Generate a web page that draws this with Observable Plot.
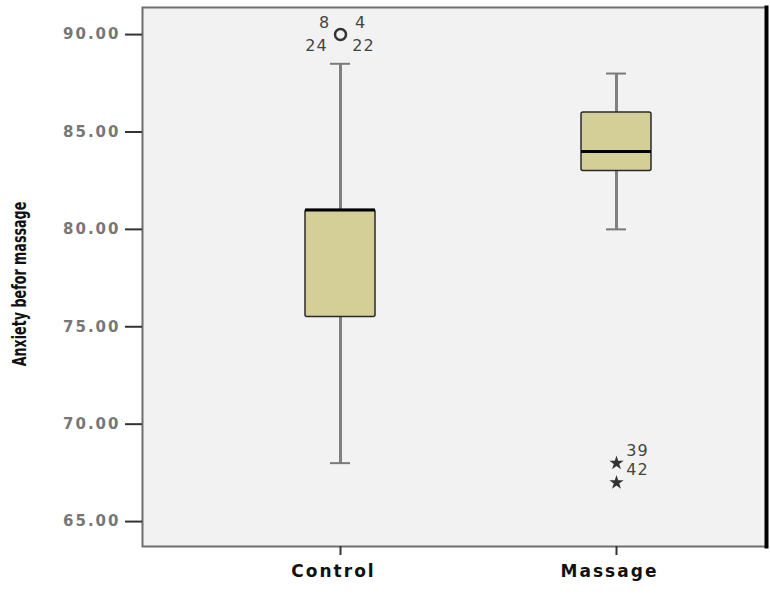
<!DOCTYPE html>
<html>
<head>
<meta charset="utf-8">
<script src="https://cdn.jsdelivr.net/npm/d3@7"></script>
<script src="https://cdn.jsdelivr.net/npm/@observablehq/plot@0.6"></script>
<style>
  html, body { margin: 0; padding: 0; background: #fff; }
  #chart { position: relative; width: 770px; height: 597px; }
  #ylabel {
    position: absolute; left: 19px; top: 284px;
    transform: translate(-50%, -50%) rotate(-90deg) scale(0.83, 1.15);
    font-family: "Liberation Sans Narrow", "DejaVu Sans Condensed", sans-serif;
    font-weight: bold; font-size: 17px; color: #111; white-space: nowrap;
  }
  .wide text { letter-spacing: 2px; }
  .wide2 text { letter-spacing: 1px; }
</style>
</head>
<body>
<div id="chart"><div id="ylabel">Anxiety befor massage</div></div>
<script>
// ---- data ----
const groups = ["Control", "Massage"];
const q1 = [75.5, 83];
const median = [81, 84];
const q3 = [81, 86];
const whiskerLow = [68, 80];
const whiskerHigh = [88.5, 88];
const outlierGroup = ["Control", "Control", "Control", "Control", "Massage", "Massage"];
const outlierValue = [90, 90, 90, 90, 68, 67];
const outlierId = ["8", "4", "24", "22", "39", "42"];
const outlierKind = ["circle", "circle", "circle", "circle", "star", "star"];
const yTicks = [65, 70, 75, 80, 85, 90];

const outliers = outlierGroup.map((g, i) => ({group: g, value: outlierValue[i], id: outlierId[i], kind: outlierKind[i]}));
const circles = outliers.filter(d => d.kind === "circle").slice(0, 1);
const stars = outliers.filter(d => d.kind === "star");
const lab = id => outliers.filter(d => d.id === id);

const textFont = "DejaVu Sans, sans-serif";
const labelStyle = {x: "group", y: "value", text: "id", fontSize: 16, fill: "#444", fontFamily: textFont, className: "wide2"};

const plot = Plot.plot({
  width: 770,
  height: 597,
  marginTop: 7,
  marginBottom: 51,
  marginLeft: 142,
  marginRight: 4,
  style: {background: "transparent", overflow: "visible"},
  x: {type: "band", domain: groups, range: [202, 754], padding: 0},
  y: {domain: [63.72, 91.39]},
  marks: [
    Plot.frame({fill: "#f2f2f2"}),
    Plot.ruleX(groups, {x: groups, y1: whiskerLow, y2: whiskerHigh, stroke: "#808080", strokeWidth: 3}),
    Plot.tickY(groups, {x: groups, y: whiskerHigh, stroke: "#7a7a7a", strokeWidth: 2, inset: 128}),
    Plot.tickY(groups, {x: groups, y: whiskerLow, stroke: "#7a7a7a", strokeWidth: 2, inset: 128}),
    Plot.barY(groups, {x: groups, y1: q1, y2: q3, fill: "#d3cf96", stroke: "#2a2a2a", strokeWidth: 1.5, insetLeft: 103, insetRight: 103, rx: 2}),
    Plot.tickY(groups, {x: groups, y: median, stroke: "#000", strokeWidth: 3, inset: 103}),
    Plot.dot(circles, {x: "group", y: "value", r: 5.5, stroke: "#333", strokeWidth: 2.5, fill: "none"}),
    Plot.dot(stars, {x: "group", y: "value", symbol: "star", r: 4.5, fill: "#333", stroke: "none"}),
    Plot.text(lab("8"), {...labelStyle, dx: -16, dy: -12}),
    Plot.text(lab("4"), {...labelStyle, dx: 20, dy: -12}),
    Plot.text(lab("24"), {...labelStyle, dx: -24, dy: 11}),
    Plot.text(lab("22"), {...labelStyle, dx: 23, dy: 11}),
    Plot.text(lab("39"), {...labelStyle, dx: 21, dy: -12}),
    Plot.text(lab("42"), {...labelStyle, dx: 21, dy: -13}),
    Plot.frame({stroke: "#6e6e6e", strokeWidth: 2}),
    Plot.frame({anchor: "right", stroke: "#000", strokeWidth: 4}),
    Plot.axisY({ticks: yTicks, tickFormat: d => d.toFixed(2), tickSize: 17, tickPadding: 5,
      stroke: "#333", strokeWidth: 2, fill: "#777", fontSize: 15, fontWeight: "bold", fontFamily: textFont, label: null, className: "wide"}),
    Plot.axisX({tickSize: 9, tickFormat: () => "", stroke: "#333", strokeWidth: 2, label: null}),
    Plot.axisX({tickSize: 0, tickPadding: 18, fill: "#111", dx: -7,
      fontSize: 17, fontWeight: "bold", fontFamily: textFont, label: null, className: "wide"})
  ]
});
document.getElementById("chart").prepend(plot);
</script>
</body>
</html>
